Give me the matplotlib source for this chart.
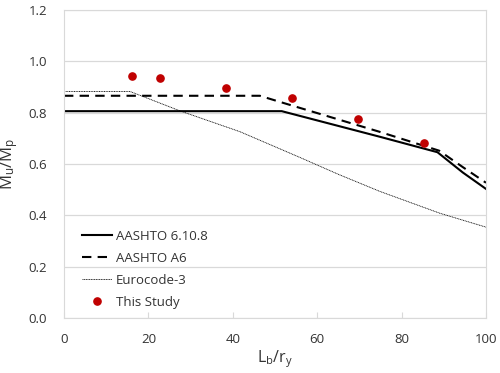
import matplotlib
matplotlib.use("Agg")
from matplotlib import pyplot as plt

# data
aashto_x = [0, 51.6, 74.9, 88.5, 94.5, 100]
aashto_y = [0.806, 0.806, 0.706, 0.646, 0.567, 0.503]

a6_x = [0, 46.4, 52, 74.9, 88.9, 94.5, 100]
a6_y = [0.866, 0.866, 0.838, 0.725, 0.652, 0.588, 0.527]

euro_x = [0, 15.6, 20, 27.5, 41.7, 56, 65, 74.9, 89.1, 100]
euro_y = [0.883, 0.883, 0.855, 0.807, 0.726, 0.625, 0.56, 0.493, 0.408, 0.354]

study_x = [16.1, 22.7, 38.4, 54.0, 69.7, 85.3]
study_y = [0.943, 0.936, 0.895, 0.856, 0.776, 0.682]

plt.rcParams["font.family"] = ["Open Sans", "DejaVu Sans"]
plt.rcParams["font.size"] = 9.5

fig = plt.figure(figsize=(5, 3.73), dpi=100, facecolor="white")
ax = fig.add_axes([0.128, 0.1475, 0.844, 0.8255])

ax.plot(aashto_x, aashto_y, color="black", lw=1.5, label="AASHTO 6.10.8")
ax.plot(a6_x, a6_y, color="black", lw=1.5, dashes=(4.5, 3), label="AASHTO A6")
ax.plot(euro_x, euro_y, color="black", lw=0.6, dashes=(1.2, 0.8), label="Eurocode-3")
ax.plot(study_x, study_y, "o", color="#C00000", ms=5.2, mec="#C00000", label="This Study")

ax.set_xlim(0, 100)
ax.set_ylim(0, 1.2)
ax.set_xticks([0, 20, 40, 60, 80, 100])
ax.set_yticks([0.0, 0.2, 0.4, 0.6, 0.8, 1.0, 1.2])
ax.set_yticklabels(["%.1f" % v for v in [0.0, 0.2, 0.4, 0.6, 0.8, 1.0, 1.2]])
ax.yaxis.grid(True, color="#d9d9d9", lw=0.9)
ax.set_axisbelow(True)
for s in ax.spines.values():
    s.set_color("#d9d9d9")
ax.tick_params(axis="x", direction="in", length=4, color="#d9d9d9", pad=11, labelcolor="#333333")
ax.tick_params(axis="y", length=0, pad=12, labelcolor="#333333")

ax.set_xlabel(r"$\mathregular{L_b/r_y}$", fontsize=11.5, labelpad=1, color="#333333")
ax.set_ylabel(r"$\mathregular{M_u/M_p}$", fontsize=12, labelpad=6, color="#333333")

leg = ax.legend(loc="lower left", frameon=False, handlelength=2.3, handletextpad=0.3,
                labelspacing=0.68, borderaxespad=0.3, bbox_to_anchor=(0.02, 0.0))
for t in leg.get_texts():
    t.set_color("#333333")

fig.savefig("out.png", dpi=100)
